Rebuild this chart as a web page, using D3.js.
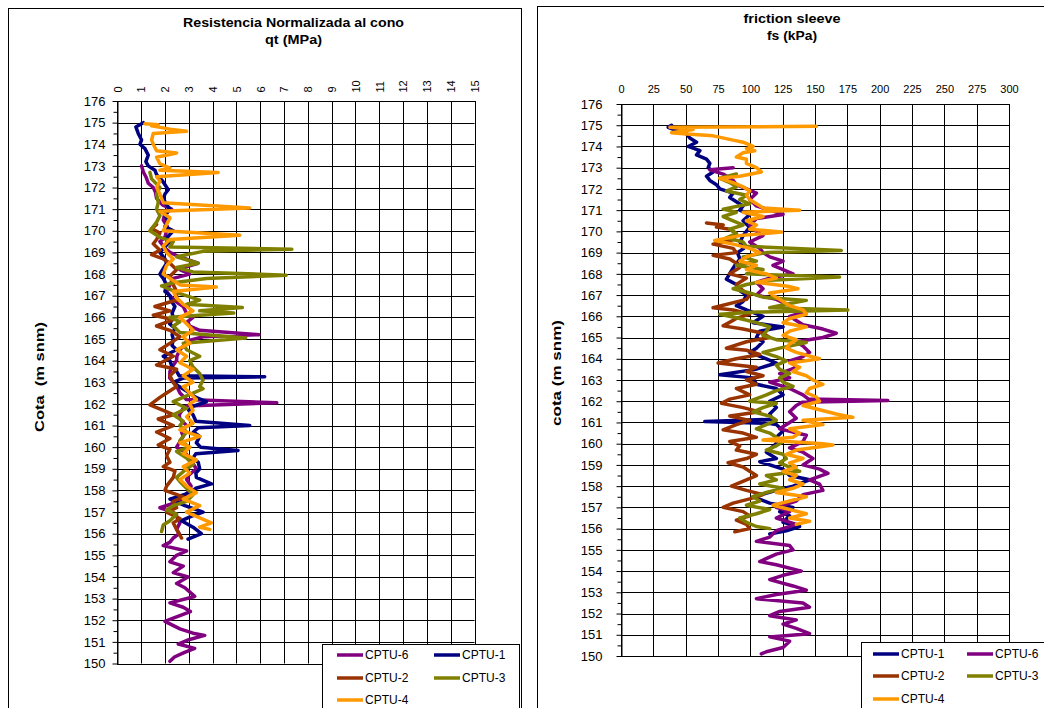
<!DOCTYPE html>
<html><head><meta charset="utf-8">
<script src="https://cdn.jsdelivr.net/npm/d3@7"></script>
<style>body{margin:0;background:#fff} text{font-family:Arial,"Liberation Sans",sans-serif;fill:#000}</style>
</head><body><svg id="c" width="1044" height="708"></svg>
<script>
// ---------- data ----------
const cotaTicks = d3.range(150, 177);
const qtTicks = d3.range(0, 16);
const fsTicks = d3.range(0, 301, 25);
const seriesNames = ["CPTU-1","CPTU-2","CPTU-3","CPTU-4","CPTU-6"];
const seriesColors = {"CPTU-1":"#000080","CPTU-2":"#993300","CPTU-3":"#808000","CPTU-4":"#FF9900","CPTU-6":"#800080"};

// qt (MPa): [cota, value]
const qt_CPTU1 = [[175.0,1.09],[174.8,0.78],[174.5,0.88],[174.2,1.02],[174.0,0.95],[173.8,1.16],[173.5,1.30],[173.2,1.20],[173.0,1.30],[172.8,1.58],[172.6,1.65],[172.3,1.9],[171.9,2.14],[171.7,2.0],[171.5,1.93],[171.2,2.07],[171.0,2.21],[170.7,2.0],[170.5,2.14],[170.2,2.0],[170.0,2.35],[169.7,2.1],[169.5,2.21],[169.2,1.95],[169.0,1.79],[168.7,2.0],[168.5,2.07],[168.2,1.9],[168.0,1.79],[167.8,1.93],[167.5,2.07],[167.2,2.0],[167.0,2.21],[166.7,2.3],[166.5,2.42],[166.2,2.3],[166.0,2.35],[165.7,2.2],[165.5,2.42],[165.2,2.3],[165.0,2.35],[164.7,2.3],[164.5,2.49],[164.2,1.93],[164.0,2.21],[163.7,2.3],[163.5,2.49],[163.3,2.6],[163.25,6.19],[163.2,2.8],[163.0,2.35],[162.8,2.6],[162.5,3.04],[162.3,3.3],[162.1,3.74],[161.9,3.2],[161.7,3.0],[161.5,3.18],[161.2,3.3],[161.0,5.56],[160.9,3.4],[160.7,3.2],[160.5,3.46],[160.2,3.32],[160.0,3.5],[159.85,5.07],[159.7,3.3],[159.5,3.18],[159.3,3.4],[159.0,3.46],[158.8,3.3],[158.6,3.32],[158.3,3.95],[158.1,3.3],[158.0,3.18],[157.8,2.8],[157.6,2.21],[157.3,2.84],[157.0,3.60],[156.8,3.1],[156.6,2.70],[156.3,3.18],[156.0,3.53],[155.75,2.97]];
const qt_CPTU6 = [[173.0,1.02],[172.7,1.1],[172.5,1.20],[172.2,1.30],[172.0,1.51],[171.8,1.6],[171.5,1.65],[171.2,1.9],[171.0,2.28],[170.8,2.0],[170.5,1.93],[170.2,2.1],[170.0,2.07],[169.7,2.0],[169.5,1.79],[169.2,2.0],[169.0,2.21],[168.8,2.6],[168.5,3.39],[168.3,2.8],[168.2,2.63],[168.0,3.04],[167.8,2.35],[167.5,2.21],[167.2,2.07],[167.0,2.21],[166.7,2.5],[166.5,2.77],[166.2,2.9],[166.0,3.18],[165.8,2.95],[165.6,3.04],[165.4,3.46],[165.2,5.95],[165.1,3.6],[164.9,2.91],[164.7,2.8],[164.5,2.63],[164.2,2.5],[164.0,2.49],[163.7,2.3],[163.5,2.21],[163.2,2.2],[163.0,2.35],[162.8,2.5],[162.5,2.63],[162.2,2.9],[162.05,6.70],[161.9,2.9],[161.8,2.77],[161.5,2.6],[161.3,2.63],[161.0,2.91],[160.7,2.7],[160.5,2.77],[160.2,2.6],[160.0,2.49],[159.8,2.8],[159.5,3.04],[159.2,3.2],[159.0,3.32],[158.7,3.0],[158.5,2.91],[158.2,3.1],[158.0,3.04],[157.7,2.8],[157.5,2.63],[157.2,1.79],[157.0,2.35],[156.8,2.5],[156.5,2.63],[156.2,2.49],[156.0,2.6],[155.8,2.35],[155.6,2.2],[155.45,1.93],[155.2,2.91],[155.0,2.49],[154.7,2.21],[154.5,2.77],[154.2,2.35],[154.0,2.97],[153.7,2.49],[153.5,2.84],[153.1,3.25],[152.8,2.21],[152.6,2.77],[152.4,3.07],[152.1,2.35],[151.95,2.0],[151.6,2.63],[151.4,3.18],[151.3,3.67],[151.1,3.0],[150.9,2.56],[150.7,3.25],[150.5,2.8],[150.3,2.4],[150.1,2.21]];
const qt_CPTU2 = [[170.3,1.65],[170.1,1.44],[169.9,1.79],[169.6,1.65],[169.4,1.51],[169.1,1.79],[168.9,1.44],[168.7,1.93],[168.5,2.21],[168.2,2.49],[167.9,2.21],[167.5,2.35],[167.2,2.49],[166.8,2.49],[166.5,1.58],[166.3,2.21],[166.1,1.51],[165.9,2.35],[165.6,1.65],[165.4,2.21],[165.1,2.63],[164.9,2.35],[164.5,1.79],[164.2,2.35],[163.8,1.65],[163.6,2.49],[163.3,2.21],[163.0,2.35],[162.8,2.49],[162.5,2.07],[162.3,1.79],[161.95,1.37],[161.7,1.93],[161.5,2.35],[161.3,1.72],[161.0,2.35],[160.7,1.65],[160.4,2.21],[160.1,1.72],[159.9,2.21],[159.6,2.07],[159.3,2.21],[159.1,1.93],[158.9,2.42],[158.6,2.35],[158.2,2.07],[158.0,2.0],[157.7,2.77],[157.5,2.35],[157.2,2.49],[157.0,2.07],[156.7,2.63],[156.5,2.35],[156.2,2.49],[155.8,2.70]];
const qt_CPTU3 = [[172.7,1.37],[172.4,1.44],[172.0,1.79],[171.7,1.65],[171.3,1.72],[171.0,1.65],[170.7,1.79],[170.4,1.65],[170.0,1.37],[169.7,1.79],[169.5,2.35],[169.25,2.21],[169.15,7.33],[169.05,3.60],[168.8,2.49],[168.5,3.39],[168.3,2.49],[168.1,3.18],[167.95,7.09],[167.8,3.74],[167.6,2.35],[167.45,1.86],[167.1,2.63],[166.8,3.46],[166.6,2.91],[166.45,5.25],[166.3,3.46],[166.2,4.89],[166.0,2.21],[165.8,2.63],[165.6,2.35],[165.3,2.63],[165.05,5.39],[164.8,2.77],[164.5,2.91],[164.2,3.46],[164.0,3.04],[163.7,3.18],[163.4,3.46],[163.1,3.60],[162.8,3.46],[162.7,3.6],[162.5,3.18],[162.1,2.35],[161.8,2.91],[161.5,2.35],[161.2,2.77],[161.0,2.63],[160.7,2.91],[160.3,2.63],[160.0,3.04],[159.8,2.49],[159.5,2.91],[159.2,3.18],[159.0,2.91],[158.6,2.49],[158.4,2.63],[158.1,2.91],[157.8,3.18],[157.5,2.91],[157.3,2.35],[157.1,2.07],[156.9,2.49],[156.6,2.21],[156.4,1.93],[156.1,1.86]];
const qt_CPTU4 = [[174.95,1.16],[174.9,1.72],[174.85,1.44],[174.7,2.21],[174.6,2.91],[174.5,1.51],[174.2,1.44],[174.0,1.51],[173.7,1.65],[173.6,2.49],[173.4,1.65],[173.1,1.79],[172.9,2.21],[172.8,1.79],[172.7,4.23],[172.5,1.65],[172.3,1.79],[172.0,1.65],[171.7,1.79],[171.3,1.93],[171.05,5.56],[170.9,1.79],[170.6,2.21],[170.3,2.07],[170.0,1.93],[169.8,5.14],[169.6,2.21],[169.3,1.93],[169.0,2.07],[168.7,2.35],[168.4,2.07],[168.0,1.93],[167.8,2.21],[167.5,2.63],[167.4,4.16],[167.2,2.35],[166.9,2.49],[166.6,2.77],[166.3,3.18],[166.0,2.63],[165.7,2.91],[165.4,3.18],[165.1,2.77],[164.8,3.04],[164.5,2.49],[164.2,2.91],[163.9,2.63],[163.6,3.18],[163.3,2.77],[163.0,3.18],[162.8,2.77],[162.5,3.04],[162.2,3.32],[162.0,3.04],[161.7,3.18],[161.4,2.91],[161.1,3.18],[160.8,2.63],[160.5,3.46],[160.2,2.63],[160.0,3.04],[159.7,2.77],[159.4,3.32],[159.1,2.77],[158.8,3.04],[158.5,2.63],[158.2,2.91],[157.9,3.32],[157.6,2.77],[157.3,3.46],[157.0,2.91],[156.8,3.32],[156.5,3.95],[156.3,3.46],[156.2,3.88]];

// fs (kPa): [cota, value]
const fs_CPTU1 = [[175.0,39.1],[174.9,36.5],[174.75,43],[174.6,50.7],[174.4,53.2],[174.2,58.4],[174.0,52],[173.8,61],[173.6,58.4],[173.4,66.1],[173.2,68.7],[173.0,67.4],[172.8,71.2],[172.6,66.1],[172.4,68.7],[172.2,73.8],[172.0,76.4],[171.8,86.7],[171.6,84.1],[171.4,89.2],[171.2,94.4],[171.0,91.8],[170.8,99.5],[170.5,94.4],[170.2,99.5],[170.0,97],[169.8,94.4],[169.5,92],[169.2,95],[169.0,90],[168.7,92],[168.4,88],[168.1,85],[167.75,81.5],[167.5,89.2],[167.2,92],[167.0,97],[166.7,94.4],[166.5,89.2],[166.3,97],[166.0,109.8],[165.7,102.1],[165.5,125.3],[165.3,107.3],[165.0,104.7],[164.8,109.8],[164.5,104.7],[164.3,99.5],[164.0,112.4],[163.8,120.1],[163.5,104],[163.25,76.4],[163.1,102.1],[162.8,104.7],[162.6,120.1],[162.3,125.3],[162.0,115],[161.7,120.1],[161.4,115],[161.15,117],[161.04,64.8],[160.95,115],[160.9,120.1],[160.6,125.3],[160.3,120.1],[160.0,120.1],[159.6,112.4],[159.3,120.1],[159.15,107.3],[158.8,125.3],[158.5,130.4],[158.3,145.8],[158.0,133],[157.8,120.1],[157.5,102.1],[157.2,115],[157.0,133],[156.8,122.7],[156.6,130.4],[156.3,125.3],[156.1,138.1],[155.9,127.8],[155.75,115]];
const fs_CPTU6 = [[173.0,86.7],[172.9,68.7],[172.7,79],[172.4,86.7],[172.2,89.2],[172.0,97],[171.8,104.7],[171.5,99.5],[171.2,104.7],[171.0,115],[170.8,125.3],[170.6,104.7],[170.3,99.5],[170.0,104.7],[169.8,109.8],[169.5,99.5],[169.2,107.3],[169.0,109.8],[168.8,115],[168.6,125.3],[168.4,117.5],[168.2,125.3],[168.0,133],[167.8,115],[167.6,104.7],[167.3,109.8],[167.0,104.7],[166.8,120.1],[166.5,130.4],[166.2,140.7],[166.0,130.4],[165.8,135.5],[165.6,140.7],[165.4,156.1],[165.2,166.4],[165.0,156.1],[164.8,135.5],[164.6,140.7],[164.3,145.8],[164.1,140.7],[163.9,130.4],[163.6,135.5],[163.3,122.7],[163.1,130.4],[162.9,115],[162.6,130.4],[162.3,140.7],[162.1,145],[162.03,206.3],[161.95,140],[161.8,135.5],[161.5,130.4],[161.2,135.5],[161.0,130.4],[160.7,122.7],[160.4,143.3],[160.1,140.7],[159.8,130.4],[159.6,140.7],[159.3,148.4],[159.0,140.7],[158.8,153.5],[158.6,160],[158.3,145.8],[158.1,153.5],[157.8,156.1],[157.6,140.7],[157.3,135.5],[157.0,120.1],[156.8,130.4],[156.5,120.1],[156.2,135.5],[155.9,120.1],[155.6,115],[155.4,104.7],[155.2,130.4],[155.0,133],[154.8,120.1],[154.45,107.3],[154.3,120.1],[154.0,139.4],[153.8,125.3],[153.6,115],[153.3,133],[153.1,143.3],[152.9,120.1],[152.7,104.7],[152.5,140.7],[152.3,145.8],[152.1,122.7],[151.9,115],[151.7,135.5],[151.5,125.3],[151.3,135.5],[151.05,145.8],[150.9,115],[150.7,130.4],[150.4,125.3],[150.2,112.4],[150.1,108.5]];
const fs_CPTU2 = [[170.4,66.1],[170.3,79],[170.2,73.8],[170.1,84.1],[169.9,89.2],[169.6,86.7],[169.4,71.2],[169.2,86.7],[169.0,89.2],[168.87,71.2],[168.7,84.1],[168.5,89.2],[168.3,91.8],[168.0,84.1],[167.8,97],[167.5,89.2],[167.2,94.4],[167.0,99.5],[166.8,97],[166.4,71.2],[166.3,86.7],[166.1,99.5],[165.9,89.2],[165.55,79],[165.4,94.4],[165.2,109.8],[165.0,115],[164.8,97],[164.5,81.5],[164.4,97],[164.2,107.3],[164.0,89.2],[163.8,75.1],[163.6,104.7],[163.4,97],[163.2,109.8],[163.0,97],[162.8,104.7],[162.6,89.2],[162.3,99.5],[162.1,84.1],[161.9,77.7],[161.7,94.4],[161.5,107.3],[161.3,84.1],[161.1,99.5],[160.9,89.2],[160.65,79],[160.5,94.4],[160.3,104.7],[160.1,84.1],[159.9,91.8],[159.7,89.2],[159.5,104.7],[159.3,97],[159.1,82.8],[158.9,94.4],[158.7,99.5],[158.5,104.7],[158.3,97],[158.0,85.4],[157.8,97],[157.6,109.8],[157.4,99.5],[157.2,86.7],[157.0,79],[156.8,94.4],[156.6,99.5],[156.4,89.2],[156.2,97],[156.0,99.5],[155.85,88]];
const fs_CPTU3 = [[172.7,89.2],[172.5,76.4],[172.3,84.1],[172.1,89.2],[171.9,81.5],[171.7,97],[171.5,91.8],[171.3,99.5],[171.05,79],[170.9,89.2],[170.7,79],[170.5,86.7],[170.3,94.4],[170.1,84.1],[169.9,89.2],[169.7,81.5],[169.5,94.4],[169.3,97],[169.1,170.3],[169.0,112.4],[168.8,94.4],[168.6,104.7],[168.4,89.2],[168.2,109.8],[168.0,97],[167.85,169],[167.7,115],[167.5,97],[167.3,86.7],[167.1,99.5],[166.9,109.8],[166.75,143.3],[166.6,130.4],[166.4,115],[166.3,175.4],[166.2,104.7],[166.1,76.4],[165.9,91.8],[165.7,104.7],[165.5,115],[165.3,112.4],[165.1,109.8],[164.9,120.1],[164.77,143.3],[164.5,122.7],[164.3,109.8],[164.1,120.1],[163.9,127.8],[163.7,120.1],[163.5,122.7],[163.3,130.4],[163.1,122.7],[162.9,125.3],[162.7,133],[162.5,120.1],[162.3,112.4],[162.0,99.5],[161.9,120.1],[161.7,109.8],[161.5,102.1],[161.3,115],[161.1,120.1],[160.9,112.4],[160.7,104.7],[160.5,115],[160.3,120.1],[160.1,125.3],[159.9,120.1],[159.7,112.4],[159.5,125.3],[159.3,127.8],[159.1,122.7],[158.9,130.4],[158.7,138.1],[158.5,112.4],[158.3,120.1],[158.1,107.3],[157.9,125.3],[157.7,112.4],[157.5,102.1],[157.3,107.3],[157.1,97],[156.9,115],[156.7,104.7],[156.5,91.8],[156.3,97],[156.1,104.7],[156.0,115]];
const fs_CPTU4 = [[174.95,151],[174.9,37.8],[174.8,55.8],[174.65,39.1],[174.6,48.1],[174.5,71.2],[174.3,86.7],[174.2,94.4],[174.0,102.1],[173.9,97],[173.8,103.4],[173.7,94.4],[173.5,89.2],[173.4,97],[173.2,97],[173.0,104.7],[172.8,108.5],[172.6,91.8],[172.5,76.4],[172.3,86.7],[172.1,94.4],[171.9,99.5],[171.7,97],[171.5,99.5],[171.3,104.7],[171.1,110],[171.0,138.1],[170.9,94.4],[170.7,109.8],[170.5,97],[170.3,104.7],[170.1,99.5],[169.97,124],[169.8,91.8],[169.57,72.5],[169.4,86.7],[169.2,99.5],[169.0,107.3],[168.8,97],[168.6,91.8],[168.4,104.7],[168.2,97],[168.0,112.4],[167.8,120.1],[167.6,104.7],[167.4,130.4],[167.3,136.8],[167.1,115],[166.9,120.1],[166.7,125.3],[166.5,130.4],[166.3,140.7],[166.1,143.3],[165.9,130.4],[165.7,125.3],[165.5,143.3],[165.3,130.4],[165.1,125.3],[164.9,135.5],[164.7,130.4],[164.5,127.8],[164.3,135.5],[164.0,153.5],[163.8,130.4],[163.6,138.1],[163.4,133],[163.2,143.3],[163.0,148.4],[162.8,156.1],[162.6,145.8],[162.4,143.3],[162.2,151],[162.0,153.5],[161.8,140.7],[161.6,153.5],[161.4,166.4],[161.24,179.3],[161.1,140.7],[160.9,156.1],[160.7,130.4],[160.5,138.1],[160.3,133],[160.17,109.8],[160.0,156.1],[159.94,163.8],[159.7,135.5],[159.5,127.8],[159.3,140.7],[159.1,130.4],[158.9,135.5],[158.7,125.3],[158.5,135.5],[158.3,130.4],[158.1,140.7],[157.9,133],[157.7,120.1],[157.5,143.3],[157.3,130.4],[157.1,117.5],[156.9,130.4],[156.7,143.3],[156.5,130.4],[156.35,145.8],[156.2,135.5]];

const qtTitle = ["Resistencia Normalizada al cono", "qt (MPa)"];
const fsTitle = ["friction sleeve", "fs (kPa)"];

// ---------- drawing ----------
const svg = d3.select("#c");
svg.append("rect").attr("width",1044).attr("height",708).attr("fill","#fff");

function panel(o) {
  const g = svg.append("g");
  g.append("rect").attr("x",o.frame[0]+0.5).attr("y",o.frame[1]+0.5)
    .attr("width",o.frame[2]).attr("height",o.frame[3])
    .attr("fill","none").attr("stroke","#000").attr("stroke-width",1);
  const x = o.x, y = o.y;
  const [x0,x1] = x.range(), [yb,yt] = y.range();
  g.append("g").selectAll("line").data(o.xTicks).join("line")
    .attr("x1",d=>Math.round(x(d))+0.5).attr("x2",d=>Math.round(x(d))+0.5)
    .attr("y1",yt).attr("y2",yb).attr("stroke","#000").attr("stroke-width",1);
  g.append("g").selectAll("line").data(cotaTicks).join("line")
    .attr("y1",d=>Math.round(y(d))+0.5).attr("y2",d=>Math.round(y(d))+0.5)
    .attr("x1",x0).attr("x2",x1).attr("stroke","#000").attr("stroke-width",1);
  const ay = g.append("g").attr("transform",`translate(${Math.round(x0)+0.5},0)`)
    .call(d3.axisLeft(y).tickValues(cotaTicks).tickSize(5).tickSizeOuter(0).tickPadding(o.yPad).tickFormat(d3.format("d")));
  ay.selectAll("text").style("font-size","13px");
  const ym = g.append("g").attr("transform",`translate(${Math.round(x0)+0.5},0)`)
    .call(d3.axisLeft(y).tickValues(d3.range(150.5,176,1)).tickSize(4).tickSizeOuter(0).tickFormat(""));
  ym.select(".domain").remove();
  const ax = g.append("g").attr("transform",`translate(0,${Math.round(yt)+0.5})`)
    .call(d3.axisTop(x).tickValues(o.xTicks).tickSize(0).tickPadding(o.xPad).tickFormat(d3.format("d")));
  ax.select(".domain").remove();
  ax.selectAll("text").style("font-size","11px");
  if (o.rotate) {
    ax.selectAll("text").attr("y",0).attr("dy","0.35em").attr("x",0)
      .attr("text-anchor","start").attr("transform","translate(0,-9) rotate(-90)");
  }
  g.append("rect").attr("x",Math.round(x0)+0.5).attr("y",Math.round(yt)+0.5)
    .attr("width",Math.round(x1)-Math.round(x0)).attr("height",Math.round(yb)-Math.round(yt))
    .attr("fill","none").attr("stroke","#000");
  const line = d3.line().x(d=>x(d[1])).y(d=>y(d[0]));
  o.series.forEach(s => {
    g.append("path").datum(s.data).attr("d",line).attr("fill","none")
      .attr("stroke",seriesColors[s.name]).attr("stroke-width",3.5)
      .attr("stroke-linejoin","round").attr("stroke-linecap","round");
  });
  o.title.forEach((t,i) => g.append("text").attr("x",o.titleX - o.titleLen[i]/2).attr("y",o.titleY[i])
    .attr("textLength",o.titleLen[i]).attr("lengthAdjust","spacingAndGlyphs")
    .style("font-size","12.5px").style("font-weight","bold").text(t));
  g.append("text").attr("transform",`translate(${o.yLabelPos[0]},${o.yLabelPos[1]}) rotate(-90)`)
    .attr("x",-o.yLabelLen/2).attr("textLength",o.yLabelLen).attr("lengthAdjust","spacingAndGlyphs")
    .style("font-size","12.5px").style("font-weight","bold")
    .style("white-space","pre").text(o.yLabel);
  const L = o.legend;
  g.append("rect").attr("x",L.box[0]+0.5).attr("y",L.box[1]+0.5).attr("width",L.box[2]).attr("height",L.box[3])
    .attr("fill","#fff").attr("stroke","#000");
  L.items.forEach((nm,i) => {
    const cx = L.cols[i%2], ry = L.rows[Math.floor(i/2)];
    g.append("line").attr("x1",cx).attr("x2",cx+26).attr("y1",ry).attr("y2",ry)
      .attr("stroke",seriesColors[nm]).attr("stroke-width",3.5);
    g.append("text").attr("x",cx+28).attr("y",ry).attr("dy","0.35em").style("font-size","12px").text(nm);
  });
}

panel({
  frame:[8,8,513,720],
  x: d3.scaleLinear([0,15],[117.3,474.5]),
  y: d3.scaleLinear([150,176],[663.5,101]),
  xTicks: qtTicks, rotate:true, xPad:9, yPad:7,
  series: [{name:"CPTU-6",data:qt_CPTU6},{name:"CPTU-1",data:qt_CPTU1},{name:"CPTU-2",data:qt_CPTU2},{name:"CPTU-3",data:qt_CPTU3},{name:"CPTU-4",data:qt_CPTU4}],
  title: qtTitle, titleLen:[221,57], titleX: 293.5, titleY:[27,44],
  yLabel: "Cota  (m snm)", yLabelLen:110, yLabelPos:[44,377],
  legend:{box:[322,644,197,80], cols:[337,434], rows:[655,678,700], items:["CPTU-6","CPTU-1","CPTU-2","CPTU-3","CPTU-4"]}
});

panel({
  frame:[537,6,520,720],
  x: d3.scaleLinear([0,300],[621,1009]),
  y: d3.scaleLinear([150,176],[656,104]),
  xTicks: fsTicks, rotate:false, xPad:12, yPad:14,
  series: [{name:"CPTU-1",data:fs_CPTU1},{name:"CPTU-6",data:fs_CPTU6},{name:"CPTU-2",data:fs_CPTU2},{name:"CPTU-3",data:fs_CPTU3},{name:"CPTU-4",data:fs_CPTU4}],
  title: fsTitle, titleLen:[97,50], titleX: 792, titleY:[23,40],
  yLabel: "cota (m snm)", yLabelLen:106, yLabelPos:[561,373],
  legend:{box:[861,642,200,80], cols:[873,967], rows:[654,676,699], items:["CPTU-1","CPTU-6","CPTU-2","CPTU-3","CPTU-4"]}
});
</script></body></html>
